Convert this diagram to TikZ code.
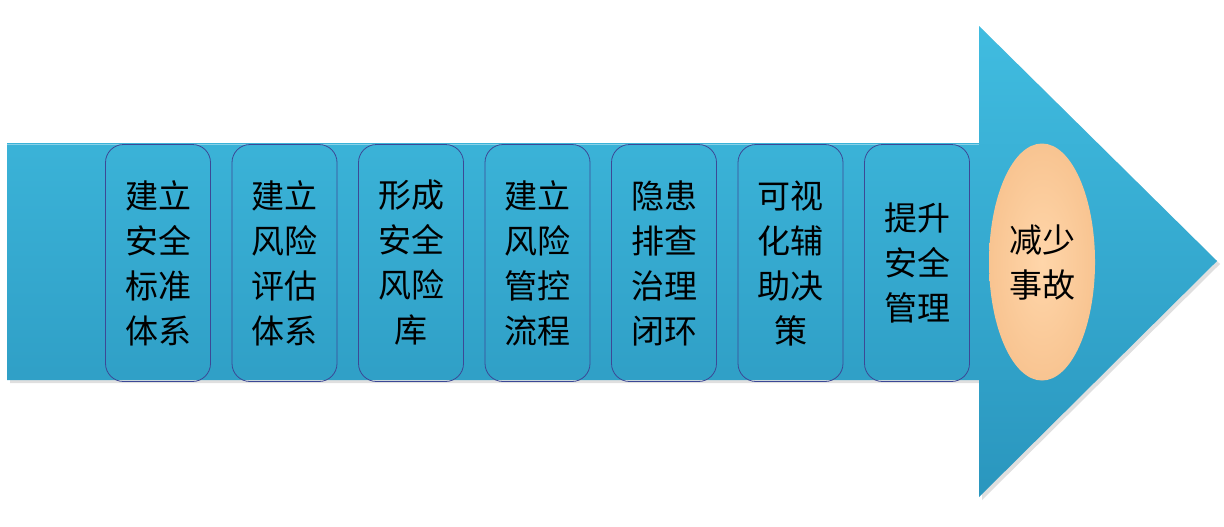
\documentclass[tikz,border=0pt]{standalone}
\usepackage{fontspec}
\newfontfamily\cjk{Noto Sans CJK SC}
\usetikzlibrary{shapes,shadows,positioning,calc}
\definecolor{arrowtop}{RGB}{64,188,224}
\definecolor{arrowbot}{RGB}{42,150,190}
\definecolor{boxline}{RGB}{60,72,150}
\definecolor{peachin}{RGB}{255,214,170}
\definecolor{peachout}{RGB}{248,196,145}

\begin{document}
\begin{tikzpicture}[x=0.5pt, y=-0.5pt,
  stage/.style={draw=boxline, thin, rounded corners=9pt, minimum width=52.5pt, minimum height=118.5pt, inner sep=0pt, align=center, font=\cjk\fontsize{16.5}{22.5}\selectfont},
  goal/.style={ellipse, draw=none, inner color=peachin, outer color=peachout, minimum width=53pt, minimum height=118.5pt, inner sep=0pt, align=center, font=\cjk\fontsize{16.5}{22.5}\selectfont}]
\useasboundingbox (0,0) rectangle (1224,526);
% big arrow
\path[top color=arrowtop, bottom color=arrowbot, drop shadow={opacity=0.25, shadow xshift=1.5pt, shadow yshift=-1.5pt}]
  (7,143) -- (979,143) -- (979,26) -- (1217,261) -- (979,497) -- (979,380) -- (7,380) -- cycle;
\draw[white, opacity=0.4] (7,144) -- (979,144);
% stages
\foreach \t [count=\i] in {{建立\\安全\\标准\\体系},{建立\\风险\\评估\\体系},{形成\\安全\\风险\\库},{建立\\风险\\管控\\流程},{隐患\\排查\\治理\\闭环},{可视\\化辅\\助决\\策},{提升\\安全\\管理}}
  \node[stage] (s\i) at (31.5+126.5*\i,263) {\t};
\node[goal] (goal) at (1042,262) {减少\\事故};
\end{tikzpicture}
\end{document}
